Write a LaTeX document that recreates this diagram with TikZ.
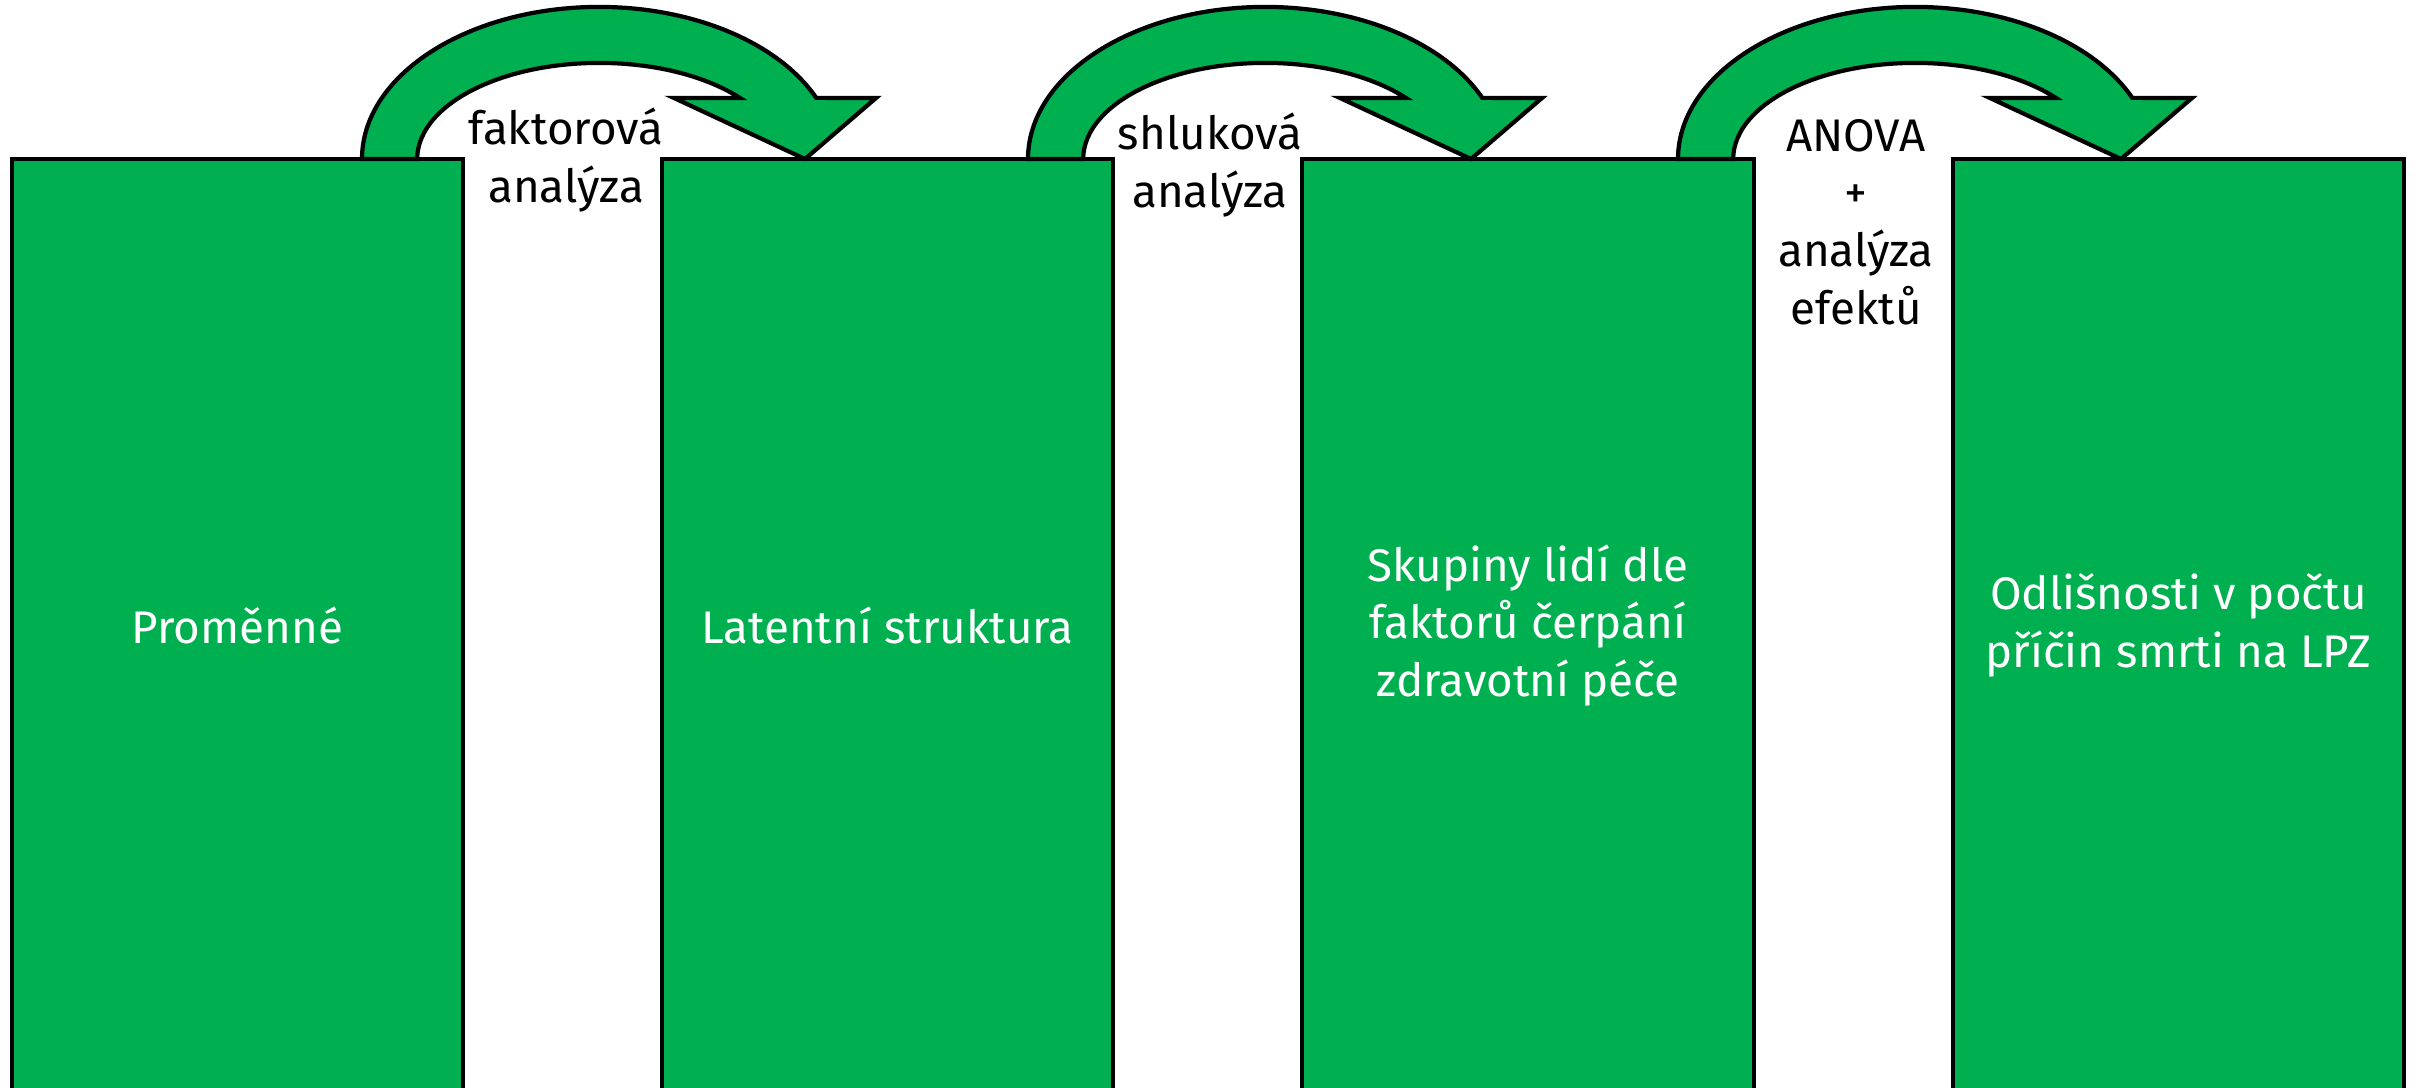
\documentclass[tikz,border=0pt]{standalone}
\usepackage{fontspec}
\setmainfont{Fira Sans}
\definecolor{stagegreen}{HTML}{00B050}
\tikzset{
  stage/.style={draw=black, line width=1.2pt, fill=stagegreen, text=white,
    minimum width=4.51cm, minimum height=9.33cm, inner sep=0pt, align=center,
    font=\fontsize{13}{16.4}\selectfont},
  method/.style={align=center, text=black, inner sep=0pt,
    font=\fontsize{13}{16.4}\selectfont},
  bendshape/.style={draw=black, line width=1.2pt, fill=stagegreen, line join=miter},
  pics/bentarrow/.style={code={
    \draw[bendshape] (0,0)
      arc[start angle=180, end angle=23.7, x radius=2.37cm, y radius=1.52cm]
      -- (514,61) -- (443,0) -- (312,61) -- (378,61)
      arc[start angle=39.4, end angle=180, x radius=1.82cm, y radius=0.96cm]
      -- cycle;
  }}
}
\begin{document}
\begin{tikzpicture}[x=0.01cm, y=0.01cm]
    \useasboundingbox (0,0) rectangle (2420,-1088);

    % Stages
    \node[stage] (vars)   at (237.5,-625.5)  {Proměnné};
    \node[stage] (latent) at (887.5,-625.5)  {Latentní struktura};
    \node[stage] (groups) at (1528,-625.5)   {Skupiny lidí dle\\faktorů čerpání\\zdravotní péče};
    \node[stage] (diffs)  at (2178.5,-625.5) {Odlišnosti v počtu\\příčin smrti na LPZ};

    % Bent arrows between stages
    \pic at (362,-159)  {bentarrow};
    \pic at (1028,-159) {bentarrow};
    \pic at (1678,-159) {bentarrow};

    % Methods
    \node[method] (fa)    at (566,-160)  {faktorová\\analýza};
    \node[method] (clust) at (1210,-165) {shluková\\analýza};
    \node[method] (anova) at (1856,-222) {ANOVA\\+\\analýza\\efektů};
\end{tikzpicture}
\end{document}
